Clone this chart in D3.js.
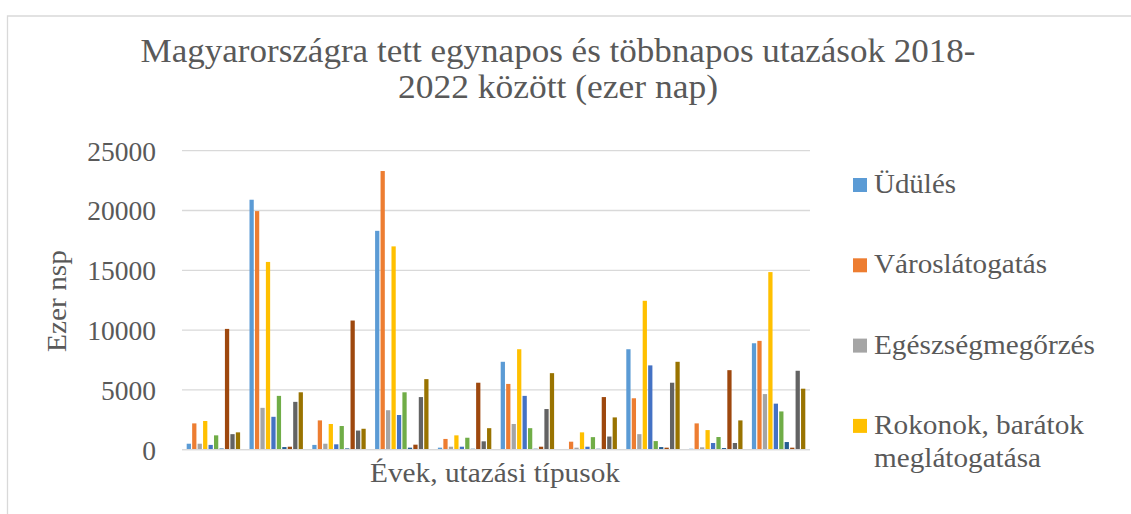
<!DOCTYPE html>
<html>
<head>
<meta charset="utf-8">
<script src="https://cdn.jsdelivr.net/npm/d3@7"></script>
<style>
  html, body { margin: 0; padding: 0; background: #fff; }
</style>
</head>
<body>
<svg id="chart" width="1131" height="514"></svg>
<script>
// ---- Data ----
const categories = ["1", "2", "3", "4", "5", "6", "7", "8", "9", "10"];
const seriesNames = [
  "Üdülés", "Városlátogatás", "Egészségmegőrzés", "Rokonok, barátok meglátogatása",
  "Sorozat 5", "Sorozat 6", "Sorozat 7", "Sorozat 8", "Sorozat 9", "Sorozat 10"
];
const legendShown = 4;
// one array per series, one value per category
const s1 = [500, 20900, 400, 18300, 170, 7350, 60, 8400, 80, 8900];
const s2 = [2200, 19950, 2450, 23300, 900, 5500, 670, 4300, 2200, 9100];
const s3 = [500, 3500, 500, 3300, 250, 2150, 170, 1300, 200, 4650];
const s4 = [2400, 15700, 2150, 17000, 1200, 8400, 1450, 12450, 1640, 14850];
const s5 = [400, 2750, 450, 2900, 250, 4500, 250, 7050, 560, 3850];
const s6 = [1200, 4500, 1980, 4800, 1000, 1800, 1050, 720, 1060, 3200];
const s7 = [100, 220, 110, 170, 80, 80, 80, 220, 140, 640];
const s8 = [10100, 250, 10800, 420, 5600, 250, 4400, 170, 6650, 170];
const s9 = [1300, 4000, 1600, 4400, 700, 3400, 1100, 5600, 560, 6600];
const s10 = [1450, 4800, 1750, 5900, 1800, 6400, 2700, 7350, 2450, 5100];
const values = [s1, s2, s3, s4, s5, s6, s7, s8, s9, s10];
const yTicks = [0, 5000, 10000, 15000, 20000, 25000];
const colors = ["#5B9BD5", "#ED7D31", "#A5A5A5", "#FFC000", "#4472C4",
                "#70AD47", "#255E91", "#9E480E", "#636363", "#997300"];

const titleLines = ["Magyarországra tett egynapos és többnapos utazások 2018-", "2022 között (ezer nap)"];
const yTitle = "Ezer nsp";
const xTitle = "Évek, utazási típusok";
const legendLines = [["Üdülés"], ["Városlátogatás"], ["Egészségmegőrzés"], ["Rokonok, barátok", "meglátogatása"]];

// ---- Layout ----
const FONT = "'Liberation Serif', 'Times New Roman', serif";
const TXT = "#595959";
const svg = d3.select("#chart");
const plot = { left: 182, right: 810, top: 150.7, bottom: 449.7 };

svg.append("path")
  .attr("d", "M7.5,514 L7.5,16 L1131,16")
  .attr("fill", "none").attr("stroke", "#d9d9d9").attr("stroke-width", 1.3);

const x0 = d3.scaleBand().domain(categories).range([plot.left, plot.right]).padding(0);
const x1 = d3.scaleBand().domain(d3.range(seriesNames.length))
  .range([0, x0.bandwidth()]).paddingInner(0).paddingOuter(0.75);
const y = d3.scaleLinear().domain([0, 25000]).range([plot.bottom, plot.top]);

// gridlines
svg.append("g").selectAll("line").data(yTicks).join("line")
  .attr("x1", plot.left).attr("x2", plot.right)
  .attr("y1", d => y(d)).attr("y2", d => y(d))
  .attr("stroke", "#d9d9d9").attr("stroke-width", 1.3);

// y axis labels
const yAxis = d3.axisLeft(y).tickValues(yTicks).tickSize(0).tickPadding(0).tickFormat(d3.format("d"));
const gy = svg.append("g").attr("transform", "translate(156,0)").call(yAxis);
gy.select(".domain").remove();
gy.attr("font-family", null).attr("font-size", null);
gy.selectAll("text")
  .style("font-family", FONT).style("font-size", "27.5px").style("fill", TXT)
  .attr("dy", "0.34em");

// bars
const bw = x1.bandwidth();
const gBars = svg.append("g");
values.forEach((vals, si) => {
  gBars.append("g").selectAll("rect").data(vals).join("rect")
    .attr("x", (d, ci) => x0(categories[ci]) + x1(si) + 0.6)
    .attr("width", bw - 1.2)
    .attr("y", d => y(d))
    .attr("height", d => y(0) - y(d))
    .attr("fill", colors[si]);
});

svg.append("line")
  .attr("x1", plot.left).attr("x2", plot.right)
  .attr("y1", y(0)).attr("y2", y(0))
  .attr("stroke", "#d9d9d9").attr("stroke-width", 1.3);

function txt(sel) {
  return sel.style("font-family", FONT).style("fill", TXT);
}

// title
const titleLen = [835, 320];
txt(svg.append("g").selectAll("text").data(titleLines).join("text"))
  .attr("x", 558).attr("y", (d, i) => 62 + i * 36)
  .attr("text-anchor", "middle").style("font-size", "33px")
  .attr("textLength", (d, i) => titleLen[i]).attr("lengthAdjust", "spacingAndGlyphs")
  .text(d => d);

// axis titles
txt(svg.append("text")).attr("transform", "translate(66,301) rotate(-90)")
  .attr("text-anchor", "middle").style("font-size", "27px")
  .attr("textLength", 102).attr("lengthAdjust", "spacingAndGlyphs").text(yTitle);
txt(svg.append("text")).attr("x", 495).attr("y", 482)
  .attr("text-anchor", "middle").style("font-size", "27px")
  .attr("textLength", 250).attr("lengthAdjust", "spacingAndGlyphs").text(xTitle);

// legend
const legendLen = [[82], [173], [221], [210, 167]];
const lg = svg.append("g");
seriesNames.slice(0, legendShown).forEach((name, i) => {
  const yy = 178 + i * 80.3;
  lg.append("rect").attr("x", 853).attr("y", yy).attr("width", 14).attr("height", 14).attr("fill", colors[i]);
  legendLines[i].forEach((ln, j) => {
    txt(lg.append("text")).attr("x", 874).attr("y", yy + 15 + j * 33)
      .style("font-size", "27.5px")
      .attr("textLength", legendLen[i][j]).attr("lengthAdjust", "spacingAndGlyphs")
      .text(ln);
  });
});
</script>
</body>
</html>
